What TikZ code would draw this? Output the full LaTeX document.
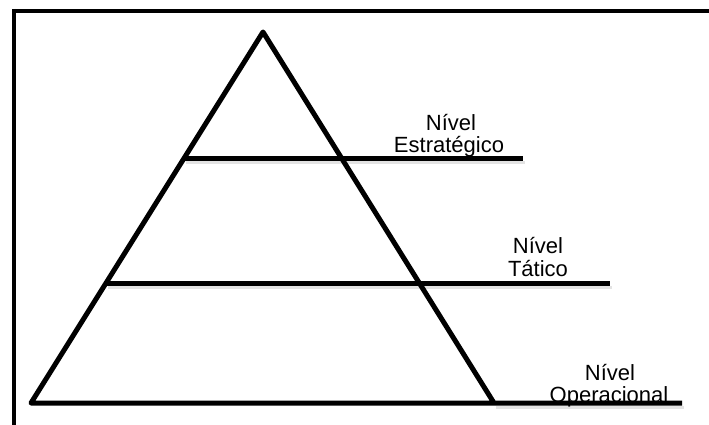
\documentclass[tikz,border=0pt]{standalone}
\usepackage{fontspec}
\setmainfont{Liberation Sans}
\begin{document}
\begin{tikzpicture}[x=1pt,y=-1pt,
  thick line/.style={line width=5pt,line join=round,line cap=butt},
  frame line/.style={line width=4.2pt},
  shadow line/.style={line width=3pt,black!18,opacity=0.6},
  lbl/.style={font=\fontsize{22}{26}\selectfont,inner sep=0pt,anchor=base}]
\useasboundingbox (0,0) rectangle (709,425);
% frame
\coordinate (ftl) at (12,11);
\coordinate (ftr) at (709,11);
\coordinate (flt) at (14,8.9);
\coordinate (flb) at (14,425);
\draw[frame line] (ftl) -- (ftr);
\draw[frame line] (flt) -- (flb);
% pyramid points
\coordinate (apex) at (263,32);
\coordinate (bl) at (31,403);
\coordinate (br) at (494,403);
\coordinate (bend) at (682,403);
\coordinate (s1) at (184,158);
\coordinate (e1) at (523,158);
\coordinate (s2) at (106,283);
\coordinate (e2) at (610,283);
% shadows
\draw[shadow line] ([shift={(2,4)}]s1) -- ([shift={(2,4)}]e1);
\draw[shadow line] ([shift={(2,4)}]s2) -- ([shift={(2,4)}]e2);
\draw[shadow line] ([shift={(2,4)}]br) -- ([shift={(2,4)}]bend);
% pyramid
\draw[thick line] (br) -- (apex) -- (bl) -- (bend);
\draw[thick line] (s1) -- (e1);
\draw[thick line] (s2) -- (e2);
% labels
\node[lbl] (l1a) at (451,131) {Nível};
\node[lbl] (l1b) at (449,153) {Estratégico};
\node[lbl] (l2a) at (538,253) {Nível};
\node[lbl] (l2b) at (538,276) {Tático};
\node[lbl] (l3a) at (610,380) {Nível};
\node[lbl] (l3b) at (609,402) {Operacional};
\end{tikzpicture}
\end{document}
